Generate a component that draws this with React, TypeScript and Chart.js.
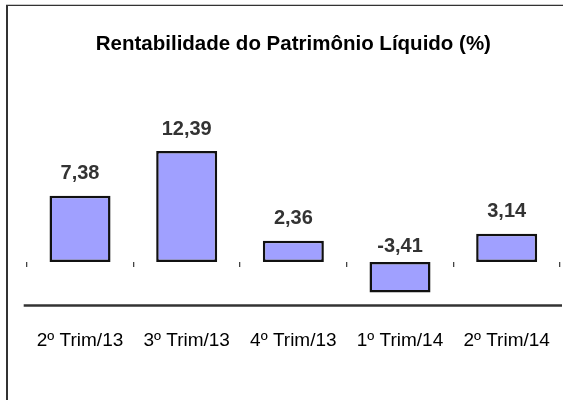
import React, { useEffect, useRef } from "react";
import { Chart, registerables } from "chart.js";

Chart.register(...registerables);

const categories = ["2º Trim/13", "3º Trim/13", "4º Trim/13", "1º Trim/14", "2º Trim/14"];
const values = [7.38, 12.39, 2.36, -3.41, 3.14];
const titleText = "Rentabilidade do Patrimônio Líquido (%)";

const FONT = '"Liberation Sans", Arial, sans-serif';

const framePlugin = {
  id: "frame",
  beforeDraw(chart: any) {
    const { ctx, width, height } = chart;
    ctx.save();
    ctx.fillStyle = "#ffffff";
    ctx.fillRect(0, 0, width, height);
    ctx.fillStyle = "#c8c8c8";
    ctx.fillRect(6, 4, width - 6, 1);
    ctx.fillStyle = "#333333";
    ctx.fillRect(6, 5, width - 6, 1);
    ctx.fillRect(6, 5, 2, height - 5);
    ctx.restore();
  },
  afterDraw(chart: any) {
    const { ctx, chartArea } = chart;
    ctx.save();
    ctx.strokeStyle = "#333333";
    ctx.lineWidth = 2.5;
    ctx.beginPath();
    ctx.moveTo(chartArea.left - 3, chartArea.bottom);
    ctx.lineTo(chartArea.right + 2, chartArea.bottom);
    ctx.stroke();
    ctx.restore();
  },
};

const labelPlugin = {
  id: "valueLabels",
  afterDatasetsDraw(chart: any) {
    const { ctx } = chart;
    const yScale = chart.scales.y;
    const zero = yScale.getPixelForValue(0);
    const meta = chart.getDatasetMeta(0);
    ctx.save();
    ctx.font = `bold 20px ${FONT}`;
    ctx.fillStyle = "#333333";
    ctx.textAlign = "center";
    ctx.textBaseline = "middle";
    meta.data.forEach((bar: any, i: number) => {
      const v = values[i];
      const y = v >= 0 ? bar.y - 22 : zero - 16;
      ctx.fillText(v.toFixed(2).replace(".", ","), bar.x, y);
    });
    ctx.restore();
  },
};

export default function App() {
  const ref = useRef<HTMLCanvasElement | null>(null);

  useEffect(() => {
    if (!ref.current) return;
    const chart = new Chart(ref.current, {
      type: "bar",
      data: {
        labels: categories,
        datasets: [
          {
            data: values,
            backgroundColor: "#A0A0FF",
            borderColor: "#111111",
            borderWidth: 2.5,
            borderSkipped: false,
            barPercentage: 0.572,
            categoryPercentage: 1,
            xAxisID: "x",
          },
        ],
      },
      options: {
        animation: false,
        responsive: false,
        events: [],
        layout: { padding: { left: 26.7, right: 3, top: 0, bottom: 47.7 } },
        plugins: {
          legend: { display: false },
          tooltip: { enabled: false },
          title: {
            display: true,
            text: titleText,
            color: "#000000",
            font: { family: FONT, size: 20.5, weight: "bold" },
            padding: { top: 31.7, bottom: 71.3 },
          },
        },
        scales: {
          x: {
            type: "category",
            position: { y: 0 } as any,
            offset: true,
            ticks: { display: false },
            grid: {
              display: true,
              offset: true,
              drawOnChartArea: false,
              drawTicks: true,
              tickLength: 5,
              color: "#444444",
              lineWidth: 1.3,
            },
            border: { display: false },
          },
          xl: {
            type: "category",
            position: "bottom",
            labels: categories,
            offset: true,
            ticks: {
              color: "#000000",
              font: { family: FONT, size: 19 },
              padding: 0,
              maxRotation: 0,
              autoSkip: false,
            },
            grid: { display: false, drawTicks: true, tickLength: 24 },
            border: { display: false },
          },
          y: {
            min: -4.855,
            max: 15,
            display: false,
          },
        },
      },
      plugins: [framePlugin, labelPlugin],
    });
    return () => chart.destroy();
  }, []);

  return (
    <div style={{ position: "absolute", left: 0, top: 0, width: 563, height: 400 }}>
      <canvas ref={ref} width={563} height={400} style={{ display: "block" }} />
    </div>
  );
}
